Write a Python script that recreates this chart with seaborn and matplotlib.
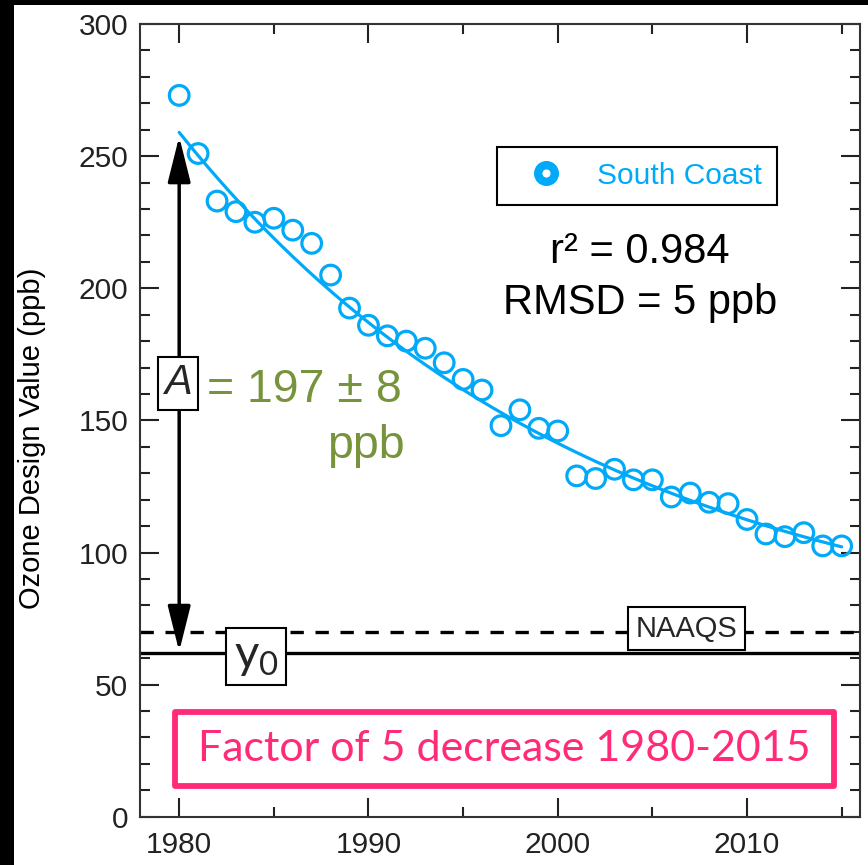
import numpy as np
import pandas as pd
import matplotlib
matplotlib.use("Agg")
import matplotlib.pyplot as plt
from matplotlib.lines import Line2D
from matplotlib.patches import Rectangle
from matplotlib.ticker import MultipleLocator
import seaborn as sns

# South Coast ozone design values (ppb)
years = list(range(1980, 2016))
ozone = [273, 251, 233, 229, 225, 226.5, 222, 217, 205, 192.5,
         186, 182, 180, 177.3, 171.8, 165.5, 161.5, 148, 154, 147,
         146, 129, 128, 131.5, 127.5, 127.5, 121, 122.5, 119, 118.5,
         112.5, 107, 106, 107.5, 102.5, 102.5]

# exponential fit parameters: y = y0 + A * exp(-(t - 1980) / tau)
fit_y0 = 62
fit_A = 197
fit_A_err = 8
fit_tau = 22
fit_r2 = 0.984
fit_rmsd = 5
naaqs = 70

x_ticks = [1980, 1990, 2000, 2010]
y_ticks = [0, 50, 100, 150, 200, 250, 300]

BLUE = "#00AAF8"
GREEN = "#77933C"
PINK = "#FF2A78"

sns.set_theme(style="ticks")
plt.rcParams["font.family"] = ["Liberation Sans", "DejaVu Sans"]

df = pd.DataFrame({"year": years, "ozone": ozone})
t_fit = np.linspace(years[0], years[-1], 200)
fit_df = pd.DataFrame({"year": t_fit,
                       "ozone": fit_y0 + fit_A * np.exp(-(t_fit - years[0]) / fit_tau)})

fig = plt.figure(figsize=(8.68, 8.65), dpi=100)
fig.patch.set_facecolor("black")
fig.add_artist(Rectangle((14 / 868, 0), 1 - 14 / 868, 1 - 5 / 865,
                         transform=fig.transFigure, fc="white", ec="none", zorder=-10))
ax = fig.add_axes([0.1613, 0.0558, 0.8295, 0.9164])
ax.set_facecolor("white")

# baseline and standard
ax.axhline(fit_y0, color="black", lw=2.4, zorder=2)
ax.axhline(naaqs, color="black", lw=2.4, dashes=(4, 3.5), zorder=2)

# fitted curve and observations
sns.lineplot(data=fit_df, x="year", y="ozone", color=BLUE, lw=2.3, ax=ax, zorder=3)
sns.scatterplot(data=df, x="year", y="ozone", marker="o", s=200,
                facecolors="none", edgecolor=BLUE, linewidth=2.3, ax=ax, zorder=4)

# amplitude arrow
ax.annotate("", xy=(years[0], fit_y0 + fit_A), xytext=(years[0], fit_y0),
            arrowprops=dict(arrowstyle="<|-|>,head_length=1.4,head_width=0.35",
                            color="black", lw=2.5, mutation_scale=20,
                            shrinkA=1, shrinkB=3), zorder=3)

box = dict(boxstyle="square,pad=0.15", fc="white", ec="black", lw=1.5)
ax.text(1979.93, 164, "A", style="italic", fontsize=30, ha="center", va="center",
        bbox=box, zorder=6)
ax.text(1981.45, 157, f"= {fit_A} ± {fit_A_err}", color=GREEN, fontsize=33.5,
        ha="left", va="baseline", zorder=6)
ax.text(1991.9, 135.7, "ppb", color=GREEN, fontsize=33.5,
        ha="right", va="baseline", zorder=6)

ax.text(1984.06, 60.5, r"y$_\mathregular{0}$", family=["Lato", "DejaVu Sans"],
        fontsize=34, ha="center", va="center",
        bbox=dict(boxstyle="square,pad=0.16", fc="white", ec="black", lw=1.5), zorder=6)
ax.text(2006.8, 71.2, "NAAQS", fontsize=21, ha="center", va="center",
        bbox=dict(boxstyle="square,pad=0.26", fc="white", ec="black", lw=1.5), zorder=6)

# fit statistics
ax.text(0.694, 0.712, f"r² = {fit_r2}", transform=ax.transAxes, fontsize=30,
        ha="center", va="center", color="black")
ax.text(0.695, 0.648, f"RMSD = {fit_rmsd} ppb", transform=ax.transAxes, fontsize=30,
        ha="center", va="center", color="black")

# highlighted summary
ax.add_patch(Rectangle((0.0486, 0.0387), 0.9639 - 0.0486, 0.1321 - 0.0387,
                       transform=ax.transAxes, fill=False, ec=PINK, lw=4.2,
                       joinstyle="round", zorder=6))
ax.text(0.5063, 0.0854, "Factor of 5 decrease 1980-2015", transform=ax.transAxes,
        family=["Lato", "DejaVu Sans"], fontsize=31, color=PINK,
        ha="center", va="center", zorder=6)

# legend
handle = Line2D([], [], ls="", marker="o", ms=12, mew=6, mfc="white", mec=BLUE)
leg = ax.legend([handle], ["South Coast"], loc="upper left",
                bbox_to_anchor=(0.496, 0.845), borderaxespad=0,
                fontsize=21.5, labelcolor=BLUE, frameon=True, fancybox=False,
                framealpha=1, edgecolor="black", handlelength=2.3,
                handletextpad=0.55, borderpad=0.5)
leg.get_frame().set_linewidth(1.5)

# axes
ax.set_xlim(1977.93, 2015.97)
ax.set_ylim(0, 300)
ax.set_xticks(x_ticks)
ax.set_yticks(y_ticks)
ax.xaxis.set_minor_locator(MultipleLocator(5))
ax.yaxis.set_minor_locator(MultipleLocator(10))
ax.tick_params(which="both", direction="in", top=True, right=True,
               colors="#222222", labelsize=21.5, width=1.5)
ax.tick_params(which="major", length=13.7)
ax.tick_params(which="minor", length=7.2)
ax.tick_params(axis="x", pad=10.5)
ax.tick_params(axis="y", pad=8.5)
for s in ax.spines.values():
    s.set_color("#333333")
    s.set_linewidth(1.5)
    s.set_visible(True)

ax.set_xlabel("")
ax.set_ylabel("Ozone Design Value (ppb)", fontsize=21, color="black")
ax.yaxis.set_label_coords(-0.1306, 0.478)

fig.savefig("out.png", dpi=100, facecolor=fig.get_facecolor())
